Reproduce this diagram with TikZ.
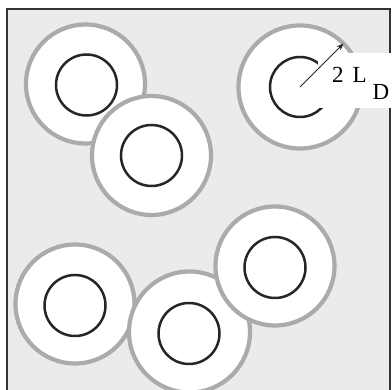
\documentclass[tikz,border=0pt]{standalone}
\usepackage{fontspec}
\setmainfont{Liberation Serif}
\usetikzlibrary{arrows.meta}
\definecolor{bggray}{HTML}{EBEBEB}
\definecolor{ringgray}{HTML}{ABABAB}
\definecolor{coreblack}{HTML}{262626}
\definecolor{framecol}{HTML}{333333}
\newcommand{\lblsize}{\fontsize{23pt}{24pt}\selectfont}
\begin{document}
\begin{tikzpicture}[x=1pt,y=-1pt,
  ring/.style={circle,draw=ringgray,line width=4.2pt,fill=white,inner sep=0pt,outer sep=0pt,minimum size=119pt},
  core/.style={circle,draw=coreblack,line width=2.5pt,inner sep=0pt,outer sep=0pt,minimum size=61pt},
  labelbox/.style={fill=white,inner sep=0pt,outer sep=0pt,anchor=north west,minimum width=74pt,minimum height=55pt},
  lbltext/.style={anchor=base west,inner sep=0pt}]
\useasboundingbox (0,0) rectangle (392,390);
\clip (0,0) rectangle (392,390);
\fill[white] (0,0) rectangle (392,390);
\draw[framecol,fill=bggray,line width=2pt] (7,9) rectangle (390,400);
% circle 1
\node[ring] (o1) at (85.5,84) {};
\node[core] (c1) at (86.5,85) {};
% circle 2
\node[ring] (o2) at (151.5,155.5) {};
\node[core] (c2) at (151.5,155.5) {};
% circle 3 (labelled)
\node[ring,minimum size=123pt] (o3) at (300,87) {};
\node[core,minimum size=60pt] (c3) at (300,87) {};
\node[labelbox] (lblbox) at (318,53) {};
\draw[-{Stealth[length=7pt,width=5.5pt]},line width=1pt,coreblack] (c3.center) -- (o3.45);
\node[lbltext] (lbl) at (332,83) {\lblsize 2\hspace{9pt}L\hspace{6pt}\raisebox{-17pt}{D}};
% bottom circles
\node[ring] (oA) at (75,304) {};
\node[core] (cA) at (75,305.5) {};
\node[ring,minimum size=121pt] (oB) at (189.5,332) {};
\node[core] (cB) at (189,333.5) {};
\node[ring] (oC) at (275,266) {};
\node[core] (cC) at (275,267.5) {};
\end{tikzpicture}
\end{document}
